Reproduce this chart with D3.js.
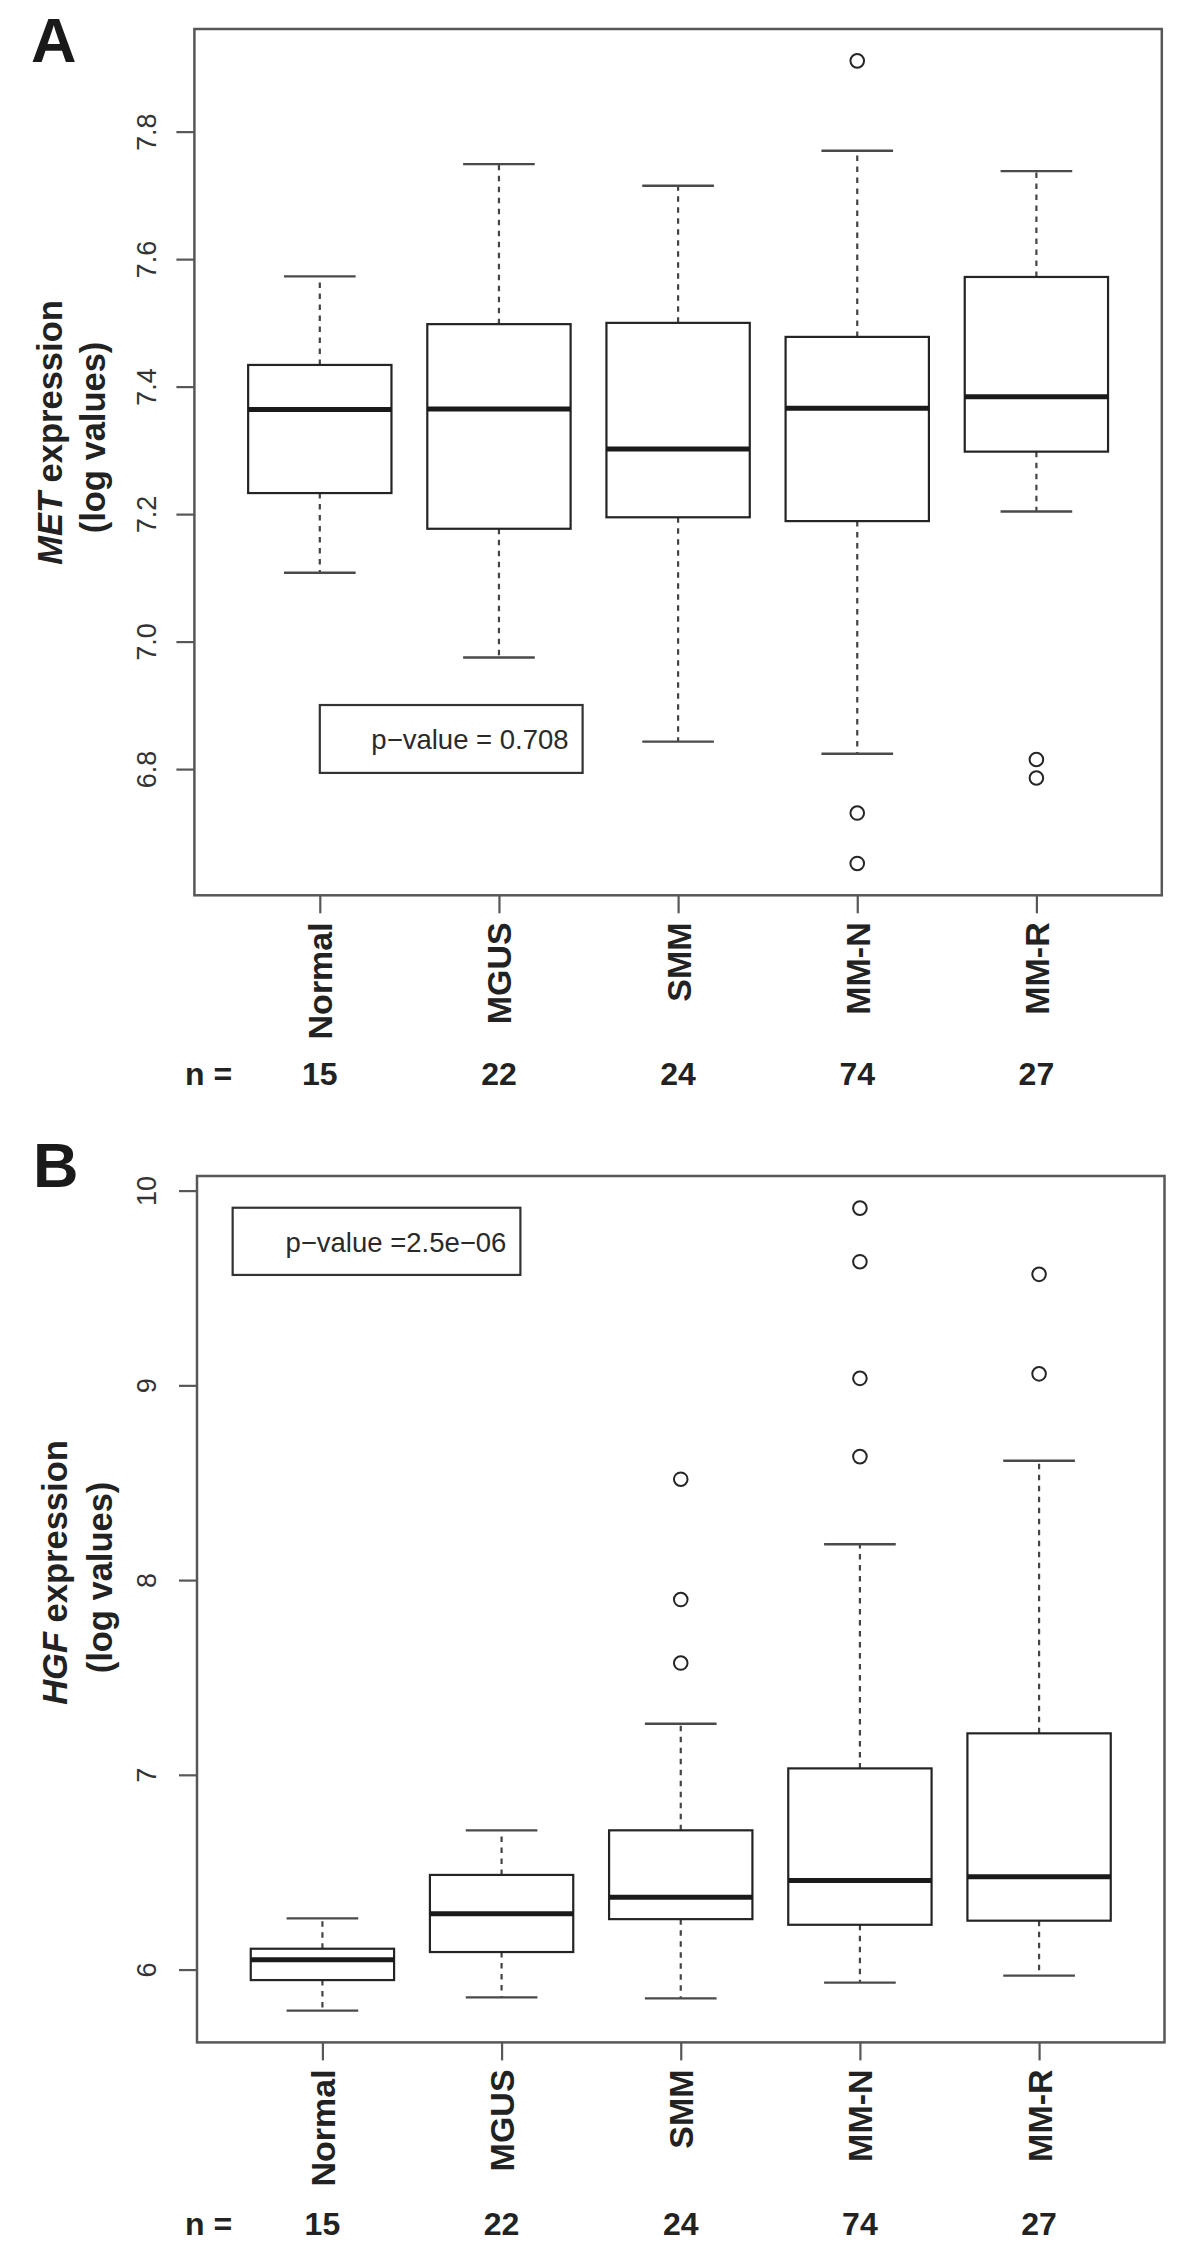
<!DOCTYPE html>
<html>
<head>
<meta charset="utf-8">
<script src="https://cdn.jsdelivr.net/npm/d3@7/dist/d3.min.js"></script>
<style>
  html, body { margin: 0; padding: 0; background: #fff; }
  svg { display: block; }
</style>
</head>
<body>
<svg id="chart" width="1200" height="2247"></svg>
<script>
// ---------- data ----------
const categories = ["Normal", "MGUS", "SMM", "MM-N", "MM-R"];
const nCounts = [15, 22, 24, 74, 27];

// Panel A: MET expression (log values)
const metLowerWhisker = [7.108, 6.975, 6.843, 6.824, 7.204];
const metQ1           = [7.233, 7.177, 7.195, 7.189, 7.298];
const metMedian       = [7.364, 7.365, 7.302, 7.366, 7.384];
const metQ3           = [7.434, 7.498, 7.500, 7.478, 7.572];
const metUpperWhisker = [7.573, 7.749, 7.715, 7.770, 7.738];
const metOutliers     = [[], [], [], [7.911, 6.731, 6.652], [6.815, 6.786]];
const metTicks        = [6.8, 7.0, 7.2, 7.4, 7.6, 7.8];
const metPValue       = "p\u2212value = 0.708";

// Panel B: HGF expression (log values)
const hgfLowerWhisker = [5.789, 5.857, 5.852, 5.933, 5.969];
const hgfQ1           = [5.946, 6.090, 6.259, 6.230, 6.251];
const hgfMedian       = [6.051, 6.287, 6.371, 6.457, 6.476];
const hgfQ3           = [6.107, 6.486, 6.715, 7.033, 7.213];
const hgfUpperWhisker = [6.263, 6.715, 7.262, 8.184, 8.613];
const hgfOutliers     = [[], [], [8.518, 7.900, 7.574], [9.910, 9.635, 9.036, 8.634], [9.570, 9.059]];
const hgfTicks        = [6, 7, 8, 9, 10];
const hgfPValue       = "p\u2212value =2.5e\u221206";

// ---------- layout ----------
const FONT = "'Liberation Sans', Arial, Helvetica, sans-serif";
const panels = [
  {
    letter: "A", gene: "MET",
    lower: metLowerWhisker, q1: metQ1, med: metMedian, q3: metQ3, upper: metUpperWhisker,
    outliers: metOutliers, ticks: metTicks, fmt: d3.format(".1f"), pText: metPValue,
    frame: { left: 194.4, right: 1161.8, top: 29, bottom: 895.3 },
    yDomain: [6.602, 7.961],
    legend: { x0: 1.0, x1: 2.467, y0: 6.794, y1: 6.9005 },
    letterPos: [31, 61.7],
    title1: [61.7, 432.5], title2: [105, 437.5],
    nBaseline: 1085
  },
  {
    letter: "B", gene: "HGF",
    lower: hgfLowerWhisker, q1: hgfQ1, med: hgfMedian, q3: hgfQ3, upper: hgfUpperWhisker,
    outliers: hgfOutliers, ticks: hgfTicks, fmt: d3.format("d"), pText: hgfPValue,
    frame: { left: 197, right: 1164.5, top: 1176, bottom: 2042.4 },
    yDomain: [5.626, 10.075],
    legend: { x0: 0.499, x1: 2.105, y0: 9.567, y1: 9.912 },
    letterPos: [33, 1187],
    title1: [66.7, 1572.5], title2: [112, 1577.5],
    nBaseline: 2235
  }
];

const svg = d3.select("#chart");
svg.append("rect").attr("width", 1200).attr("height", 2247).attr("fill", "#fff");

const FRAME_COL = "#575757";
const BOX_COL = "#242424";
const WHISK_COL = "#444";
const TEXT_COL = "#222";

panels.forEach(p => {
  const f = p.frame;
  const x = d3.scaleLinear().domain([0.3, 5.7]).range([f.left, f.right]);
  const y = d3.scaleLinear().domain(p.yDomain).range([f.bottom, f.top]);
  const g = svg.append("g");

  // Y axis
  const yAxis = g.append("g")
    .attr("transform", `translate(${f.left},0)`)
    .call(d3.axisLeft(y).tickValues(p.ticks).tickSize(18).tickFormat(p.fmt));
  yAxis.select(".domain").remove();
  yAxis.selectAll(".tick line").attr("stroke", FRAME_COL).attr("stroke-width", 2.2);
  yAxis.selectAll(".tick text")
    .attr("x", null).attr("dy", null)
    .attr("text-anchor", "middle")
    .attr("transform", `translate(${-f.left + 155.5},0) rotate(-90)`)
    .attr("fill", "#333")
    .style("font-family", FONT)
    .style("font-size", "27px");

  // X axis
  const xAxis = g.append("g")
    .attr("transform", `translate(0,${f.bottom})`)
    .call(d3.axisBottom(x).tickValues([1, 2, 3, 4, 5]).tickSize(18)
      .tickFormat(i => categories[i - 1]));
  xAxis.select(".domain").remove();
  xAxis.selectAll(".tick line").attr("stroke", FRAME_COL).attr("stroke-width", 2.2);
  xAxis.selectAll(".tick text")
    .attr("y", null).attr("dy", null)
    .attr("text-anchor", "end")
    .attr("transform", "translate(12,27) rotate(-90)")
    .attr("fill", TEXT_COL)
    .style("font-family", FONT)
    .style("font-weight", "bold")
    .style("font-size", "34px");

  // Frame
  g.append("rect")
    .attr("x", f.left).attr("y", f.top)
    .attr("width", f.right - f.left).attr("height", f.bottom - f.top)
    .attr("fill", "none").attr("stroke", FRAME_COL).attr("stroke-width", 2.5);

  const bw = 0.4;   // half box width in category units
  const sw = 0.2;   // half staple width
  categories.forEach((c, i) => {
    const cx = i + 1;
    const bg = g.append("g");
    // whiskers (dashed)
    bg.append("line")
      .attr("x1", x(cx)).attr("x2", x(cx))
      .attr("y1", y(p.q3[i])).attr("y2", y(p.upper[i]))
      .attr("stroke", WHISK_COL).attr("stroke-width", 2.2).attr("stroke-dasharray", "5.5,5.5");
    bg.append("line")
      .attr("x1", x(cx)).attr("x2", x(cx))
      .attr("y1", y(p.q1[i])).attr("y2", y(p.lower[i]))
      .attr("stroke", WHISK_COL).attr("stroke-width", 2.2).attr("stroke-dasharray", "5.5,5.5");
    // staples
    [p.upper[i], p.lower[i]].forEach(v => {
      bg.append("line")
        .attr("x1", x(cx - sw)).attr("x2", x(cx + sw))
        .attr("y1", y(v)).attr("y2", y(v))
        .attr("stroke", "#4a4a4a").attr("stroke-width", 2.4);
    });
    // box
    bg.append("rect")
      .attr("x", x(cx - bw)).attr("width", x(cx + bw) - x(cx - bw))
      .attr("y", y(p.q3[i])).attr("height", y(p.q1[i]) - y(p.q3[i]))
      .attr("fill", "#fff").attr("stroke", BOX_COL).attr("stroke-width", 2.2);
    // median
    bg.append("line")
      .attr("x1", x(cx - bw)).attr("x2", x(cx + bw))
      .attr("y1", y(p.med[i])).attr("y2", y(p.med[i]))
      .attr("stroke", "#1a1a1a").attr("stroke-width", 5);
    // outliers
    bg.selectAll("circle.out").data(p.outliers[i]).enter().append("circle")
      .attr("class", "out")
      .attr("cx", x(cx)).attr("cy", d => y(d)).attr("r", 6.8)
      .attr("fill", "none").attr("stroke", "#262626").attr("stroke-width", 2);
  });

  // Legend (p-value box)
  const L = p.legend;
  g.append("rect")
    .attr("x", x(L.x0)).attr("y", y(L.y1))
    .attr("width", x(L.x1) - x(L.x0)).attr("height", y(L.y0) - y(L.y1))
    .attr("fill", "#fff").attr("stroke", "#333").attr("stroke-width", 2.2);
  g.append("text")
    .attr("x", x(L.x1) - 14)
    .attr("y", (y(L.y0) + y(L.y1)) / 2 + 10.4)
    .attr("text-anchor", "end")
    .attr("fill", "#2a2a2a")
    .style("font-family", FONT).style("font-size", "27.5px")
    .text(p.pText);

  // Y title (two lines, rotated)
  const t1 = g.append("text")
    .attr("transform", `translate(${p.title1[0]},${p.title1[1]}) rotate(-90)`)
    .attr("text-anchor", "middle").attr("fill", TEXT_COL)
    .style("font-family", FONT).style("font-weight", "bold").style("font-size", "34.5px");
  t1.append("tspan").style("font-style", "italic").text(p.gene);
  t1.append("tspan").text(" expression");
  g.append("text")
    .attr("transform", `translate(${p.title2[0]},${p.title2[1]}) rotate(-90)`)
    .attr("text-anchor", "middle").attr("fill", TEXT_COL)
    .style("font-family", FONT).style("font-weight", "bold").style("font-size", "34.5px")
    .text("(log values)");

  // n = row
  g.append("text")
    .attr("x", 208.5).attr("y", p.nBaseline)
    .attr("text-anchor", "middle").attr("fill", TEXT_COL)
    .style("font-family", FONT).style("font-weight", "bold").style("font-size", "32px")
    .text("n =");
  g.selectAll("text.ncount").data(nCounts).enter().append("text")
    .attr("class", "ncount")
    .attr("x", (d, i) => x(i + 1)).attr("y", p.nBaseline)
    .attr("text-anchor", "middle").attr("fill", TEXT_COL)
    .style("font-family", FONT).style("font-weight", "bold").style("font-size", "32px")
    .text(d => d);

  // Panel letter
  g.append("text")
    .attr("x", p.letterPos[0]).attr("y", p.letterPos[1])
    .attr("fill", "#1a1a1a")
    .style("font-family", FONT).style("font-weight", "bold").style("font-size", "63px")
    .text(p.letter);
});
</script>
</body>
</html>
